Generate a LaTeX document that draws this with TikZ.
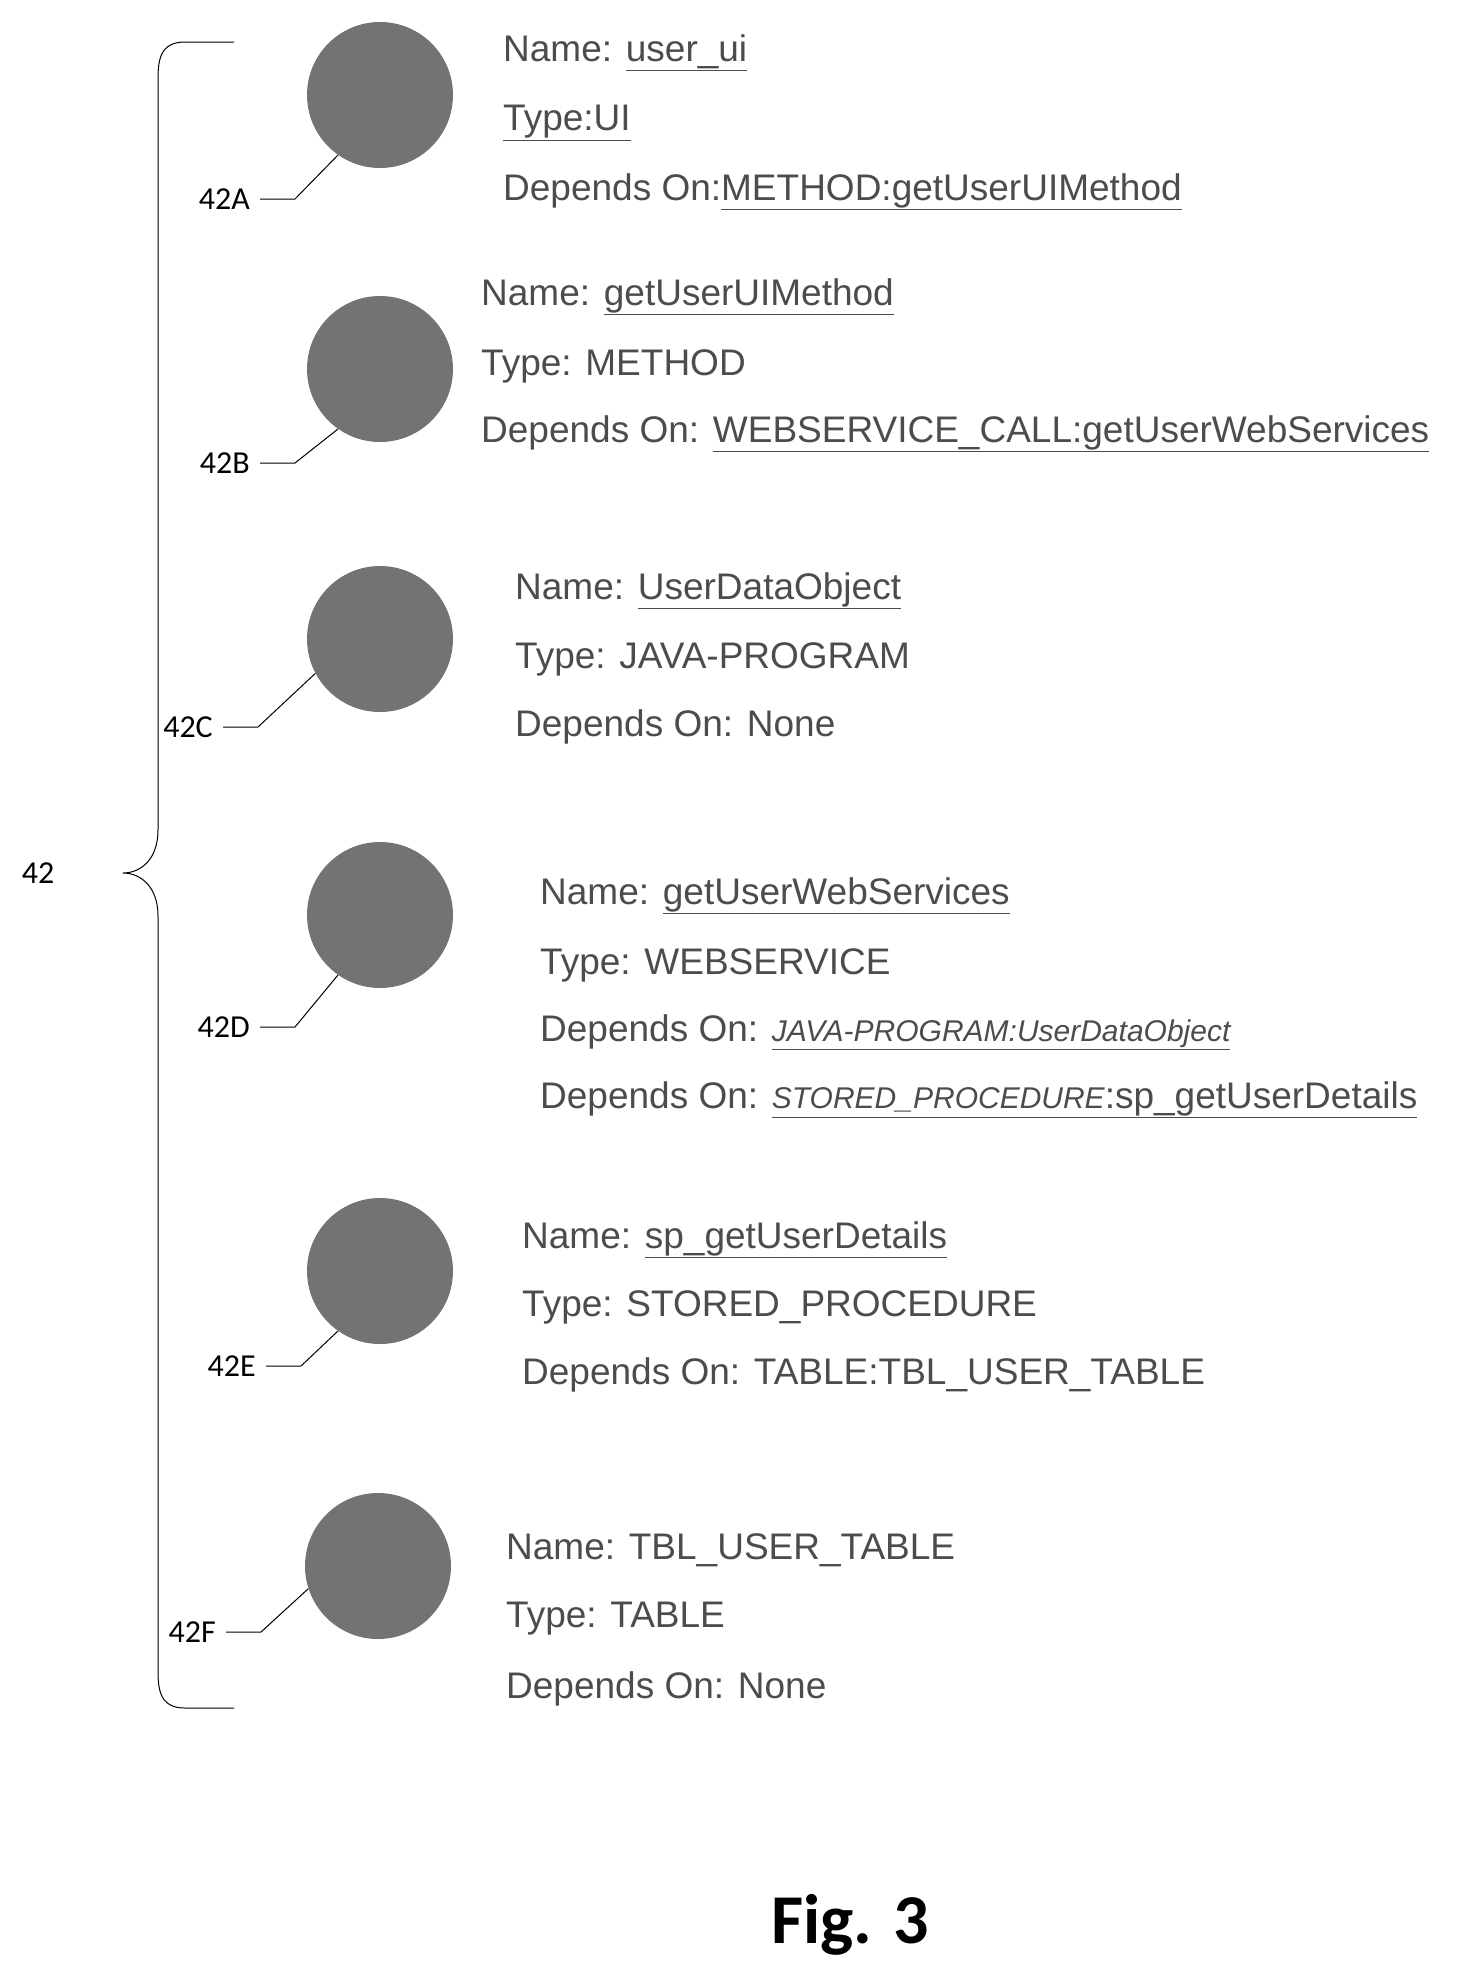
\documentclass[tikz,border=0pt]{standalone}
\usepackage{fontspec}
\setmainfont{Liberation Sans}
\newfontfamily\calib{Carlito}
\begin{document}
\begin{tikzpicture}[x=1pt,y=-1pt,
  dot/.style={circle,fill=black!55,minimum size=146pt,inner sep=0pt},
  info/.style={anchor=west,inner sep=0pt,text=black!70,font=\fontsize{37}{40}\selectfont},
  ref/.style={anchor=east,inner sep=0pt,font=\calib\fontsize{32}{36}\selectfont},
  lead/.style={line width=1pt}]
\useasboundingbox (0,0) rectangle (1480,1973);
\newcommand\ul[1]{\underline{#1}}
% bracket
\coordinate (bt) at (234,42);
\coordinate (bb) at (234,1708);
\coordinate (tip) at (123,873);
\draw[line width=1pt] (bt) -- (185,42) .. controls (160,42) and (158,60) .. (158,80) -- (158,830) .. controls (158,860) and (140,873) .. (tip) .. controls (140,873) and (158,886) .. (158,916) -- (158,1670) .. controls (158,1690) and (160,1708) .. (185,1708) -- (bb);
\node[inner sep=0pt,font=\calib\fontsize{32}{36}\selectfont] (l42) at (38,873) {42};
% circles
\node[dot] (A) at (380,95) {};
\node[dot] (B) at (380,369) {};
\node[dot] (C) at (380,639) {};
\node[dot] (D) at (380,915) {};
\node[dot] (E) at (380,1271) {};
\node[dot] (F) at (378,1566) {};
% reference labels
\node[ref] (rA) at (250,199) {42A};
\node[ref] (rB) at (250,463) {42B};
\node[ref] (rC) at (213,727) {42C};
\node[ref] (rD) at (250,1027) {42D};
\node[ref] (rE) at (256,1366) {42E};
\node[ref] (rF) at (216,1632) {42F};
\foreach \r/\c/\a in {rA/A/235,rB/B/235,rC/C/208,rD/D/235,rE/E/235,rF/F/198}{
  \draw[lead] (\r.east) ++(10,0) -- ++(35,0) -- (\c.\a);
}
% texts
\node[info] (tA1) at (503,53) {Name: \ul{user\_ui}};
\node[info] (tA2) at (503,123) {\ul{Type:UI}};
\node[info] (tA3) at (503,192) {Depends On:\ul{METHOD:getUserUIMethod}};
\node[info] (tB1) at (481,297) {Name: \ul{getUserUIMethod}};
\node[info] (tB2) at (481,366) {Type: METHOD};
\node[info] (tB3) at (481,434) {Depends On: \ul{WEBSERVICE\_CALL:getUserWebServices}};
\node[info] (tC1) at (515,591) {Name: \ul{UserDataObject}};
\node[info] (tC2) at (515,659) {Type: JAVA-PROGRAM};
\node[info] (tC3) at (515,727) {Depends On: None};
\node[info] (tD1) at (540,896) {Name: \ul{getUserWebServices}};
\node[info] (tD2) at (540,965) {Type: WEBSERVICE};
\node[info] (tD3) at (540,1032) {Depends On: \ul{\fontsize{30}{34}\selectfont\itshape JAVA-PROGRAM:UserDataObject}};
\node[info] (tD4) at (540,1100) {Depends On: \ul{{\fontsize{30}{34}\selectfont\itshape STORED\_PROCEDURE}:sp\_getUserDetails}};
\node[info] (tE1) at (522,1240) {Name: \ul{sp\_getUserDetails}};
\node[info] (tE2) at (522,1307) {Type: STORED\_PROCEDURE};
\node[info] (tE3) at (522,1375) {Depends On: TABLE:TBL\_USER\_TABLE};
\node[info] (tF1) at (506,1550) {Name: TBL\_USER\_TABLE};
\node[info] (tF2) at (506,1619) {Type: TABLE};
\node[info] (tF3) at (506,1689) {Depends On: None};
\node[inner sep=0pt,font=\calib\bfseries\fontsize{70}{76}\selectfont] (fig) at (850,1925) {Fig. 3};
\end{tikzpicture}
\end{document}
